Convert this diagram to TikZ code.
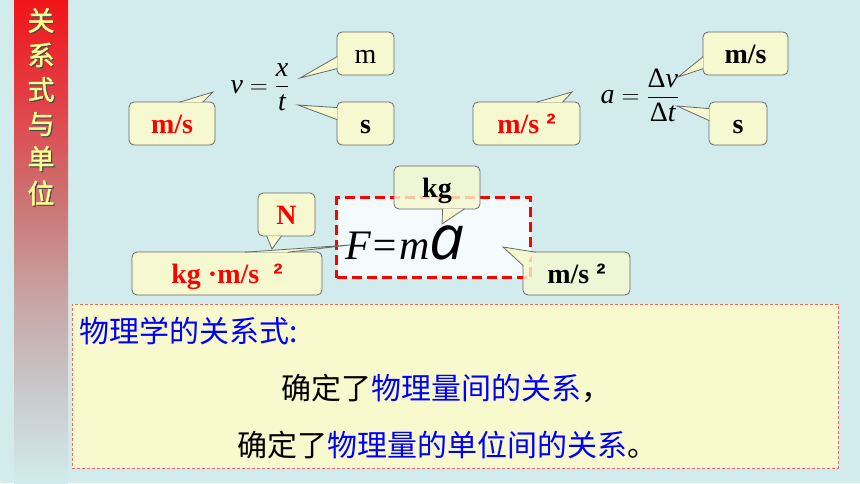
\documentclass[tikz,border=0pt]{standalone}
\usepackage{amsmath}
\usepackage{fontspec}
\setmainfont{Liberation Serif}
\newfontfamily\cjk{Noto Sans CJK SC}
\newfontfamily\cjkbold[FakeBold=1.5]{Noto Sans CJK SC}
\newfontfamily\arialfont{Liberation Sans}
\newfontfamily\opensans{Open Sans}
\usetikzlibrary{calc}
\definecolor{bgteal}{RGB}{210,235,236}
\definecolor{callfill}{RGB}{246,249,208}
\definecolor{callline}{RGB}{105,105,105}
\definecolor{notefill}{RGB}{248,250,205}
\definecolor{noteline}{RGB}{238,105,105}
\definecolor{formfill}{RGB}{244,251,252}
\definecolor{bartext}{RGB}{255,255,150}
\newcommand{\sqr}{{\arialfont\bfseries ²}}
\tikzstyle{callout}=[draw=callline, fill=callfill, line width=0.8pt, rounded corners=5pt,
                     inner sep=0, minimum height=43pt, text height=20pt, text depth=0pt,
                     font=\fontsize{28}{30}\selectfont\bfseries]
\tikzstyle{pointer}=[draw=callline, fill=callfill, line width=0.8pt, line join=miter]
\tikzstyle{seethru}=[fill opacity=0.8, text opacity=1]
\tikzstyle{eqn}=[inner sep=0, font=\fontsize{28}{32}\selectfont]
\tikzstyle{cjktext}=[inner sep=0, font=\cjk\fontsize{30}{30}\selectfont]
\tikzstyle{barchar}=[inner sep=0, font=\cjkbold\fontsize{27}{27}\selectfont]
% base point, base point, tip
\newcommand{\pointer}[3]{\filldraw[pointer] (#1) -- (#3) -- (#2);}
\begin{document}
\begin{tikzpicture}[x=1pt, y=-1pt]
    \useasboundingbox (0,0) rectangle (860,483);
    \fill[bgteal] (0,0) rectangle (860,483);
    % side bar
    \shade[top color={rgb,255:red,240;green,20;blue,25}, bottom color={rgb,255:red,226;green,64;blue,70}] (14,0) rectangle (68,100);
    \shade[top color={rgb,255:red,226;green,64;blue,70}, bottom color={rgb,255:red,205;green,115;blue,115}] (14,100) rectangle (68,200);
    \shade[top color={rgb,255:red,205;green,115;blue,115}, bottom color={rgb,255:red,200;green,165;blue,165}] (14,200) rectangle (68,300);
    \shade[top color={rgb,255:red,200;green,165;blue,165}, bottom color={rgb,255:red,200;green,198;blue,200}] (14,300) rectangle (68,385);
    \shade[top color={rgb,255:red,200;green,198;blue,200}, bottom color=bgteal] (14,385) rectangle (68,483);
    \foreach \ch [count=\i] in {关,系,式,与,单,位} {
        \node[barchar, text=black!70] at (42.2, 21.7+34.5*\i-34.5) {\ch};
        \node[barchar, text=bartext] (bar\i) at (41, 20.5+34.5*\i-34.5) {\ch};
    }
    % note box
    \node[draw=noteline, fill=notefill, dash pattern=on 3pt off 2pt, line width=0.8pt,
          minimum width=766pt, minimum height=164pt, inner sep=0] (note) at (455,386) {};
    \node[cjktext, anchor=west, text=blue] (line1) at (79,331) {物理学的关系式:};
    \node[cjktext] (line2) at (446,388) {确定了\textcolor{blue}{物理量间的关系}，};
    \node[cjktext] (line3) at (447,445) {确定了\textcolor{blue}{物理量的单位间的关系}。};
    % F = ma box
    \node[draw=red, fill=formfill, dash pattern=on 10pt off 5pt, line width=2.4pt,
          minimum width=194pt, minimum height=80pt, inner sep=0] (fbox) at (433.5,237.5) {};
    % equations
    \node[eqn] (veq) at (260,87) {$\textit{v}=\dfrac{\textit{x}}{\textit{t}}$};
    \node[eqn] (aeq) at (640,95) {$\textit{a}=\dfrac{\textup{Δ}\textit{v}}{\textup{Δ}\textit{t}}$};
    % callouts
    \node[callout, minimum width=57pt, font=\fontsize{28}{30}\selectfont] (mtop) at (365.5,53.5) {m};
    \node[callout, minimum width=57pt] (stop) at (365.5,123.5) {s};
    \node[callout, minimum width=86pt, text=red] (vunit) at (172,123.5) {m/s};
    \node[callout, minimum width=107pt, text=red] (aunit) at (526.5,123.5) {m/s \sqr};
    \node[callout, minimum width=85pt] (dvunit) at (745.5,53.5) {m/s};
    \node[callout, minimum width=58pt] (dtunit) at (738,123.5) {s};
    \node[callout, seethru, minimum width=86pt] (kg) at (437,187.5) {kg};
    \node[callout, minimum width=57pt, text=red] (N) at (286.5,214.5) {N};
    \node[callout, minimum width=190pt, text=red] (funit) at (227,273.5) {kg ·m/s \ \sqr};
    \node[callout, seethru, minimum width=107pt] (aunitf) at (576.5,273.5) {m/s \sqr};
    \coordinate (mtip) at (300,78);
    \coordinate (stip) at (298,105);
    \coordinate (vtip) at (213,92);
    \coordinate (atip) at (572,92);
    \coordinate (dvtip) at (678,77);
    \coordinate (dttip) at (677,106);
    \coordinate (kgtip) at (442,224);
    \coordinate (Ntip) at (272,249);
    \coordinate (ftip) at (350,245);
    \coordinate (aftip) at (503,247);
    \pointer{$(mtop.north west)+(0.6,25)$}{$(mtop.north west)+(0.6,37)$}{mtip}
    \pointer{$(stop.north west)+(0.6,6)$}{$(stop.north west)+(0.6,18)$}{stip}
    \pointer{$(vunit.north west)+(51,0.6)$}{$(vunit.north west)+(74,0.6)$}{vtip}
    \pointer{$(aunit.north west)+(64,0.6)$}{$(aunit.north west)+(90,0.6)$}{atip}
    \pointer{$(dvunit.north west)+(0.6,25)$}{$(dvunit.north west)+(0.6,37)$}{dvtip}
    \pointer{$(dtunit.north west)+(0.6,7)$}{$(dtunit.north west)+(0.6,19)$}{dttip}
    \pointer{$(kg.south west)+(49,-0.6)$}{$(kg.south west)+(71,-0.6)$}{kgtip}
    \pointer{$(N.south west)+(9,-0.6)$}{$(N.south west)+(24,-0.6)$}{Ntip}
    \pointer{$(funit.north west)+(113,0.6)$}{$(funit.north west)+(156,0.6)$}{ftip}
    \pointer{$(aunitf.north west)+(0.6,14)$}{$(aunitf.north west)+(13,0.6)$}{aftip}
    % F = ma
    \node[inner sep=0, anchor=base west] (fma) at (345,259)
        {\fontsize{42}{42}\selectfont\itshape F=m{\opensans\itshape\fontsize{62}{62}\selectfont a}};
\end{tikzpicture}
\end{document}
